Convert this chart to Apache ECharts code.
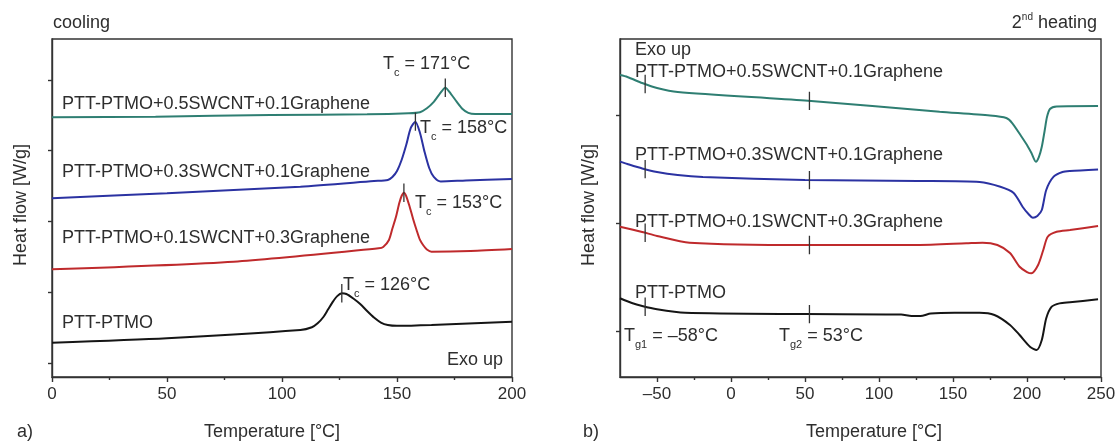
<!DOCTYPE html>
<html>
<head>
<meta charset="utf-8">
<script src="https://cdn.jsdelivr.net/npm/echarts@6/dist/echarts.min.js"></script>
<style>
  html, body { margin: 0; padding: 0; background: #ffffff; }
  #chart { width: 1119px; height: 441px; }
</style>
</head>
<body>
<div id="chart"></div>
<script>
// ---- DSC data: [temperature °C, heat flow (offset, arbitrary units)] ----

// a) cooling
const coolNeat = [[0,0.287],[50,0.349],[108,0.466],[113,0.505],[115.5,0.560],[118,0.650],[120,0.755],[122,0.860],[124,0.945],[126,0.985],[128,0.975],[131,0.912],[134,0.834],[137,0.735],[140,0.643],[143,0.572],[146,0.537],[150,0.525],[165,0.537],[200,0.584]];
const coolS01G03 = [[0,1.324],[79,1.432],[142,1.622],[144,1.640],[146.5,1.739],[148,1.900],[149.5,2.060],[151,2.260],[152,2.360],[153,2.407],[154,2.360],[155.5,2.209],[157,2.035],[158.5,1.880],[160,1.739],[161.5,1.660],[163,1.604],[165,1.573],[182,1.583],[200,1.611]];
const coolS03G01 = [[0,2.328],[50,2.399],[108,2.492],[140,2.572],[146,2.587],[148,2.629],[150,2.714],[152,2.869],[154,3.081],[156,3.322],[158,3.411],[160,3.251],[162,2.982],[164,2.756],[166,2.629],[169,2.565],[180,2.580],[200,2.601]];
const coolS05G01 = [[0,3.473],[45,3.481],[95,3.505],[137,3.515],[155,3.530],[160,3.545],[163,3.600],[166,3.690],[168.5,3.800],[171,3.891],[173.5,3.800],[176,3.690],[178.5,3.590],[181,3.535],[184,3.519],[200,3.519]];
const coolTc = [126, 153, 158, 171];

// b) 2nd heating
const heatNeat = [[-75,0.303],[-67,0.259],[-60,0.231],[-50,0.201],[-31,0.169],[50,0.157],[115,0.153],[122,0.139],[128,0.139],[135,0.162],[151,0.169],[168,0.169],[178,0.148],[188.5,0.056],[195,-0.037],[202,-0.145],[206.5,-0.176],[210,-0.083],[213,0.118],[216.7,0.225],[222,0.256],[229,0.266],[248,0.294]];
const heatS01G03 = [[-75,0.966],[-60,0.917],[-50,0.880],[-28,0.818],[50,0.796],[126,0.796],[159,0.812],[170,0.818],[180,0.796],[188.5,0.722],[195,0.595],[200,0.546],[203,0.534],[207.5,0.611],[211,0.750],[214,0.873],[220,0.919],[229,0.935],[248,0.972]];
const heatS03G01 = [[-75,1.568],[-70,1.546],[-60,1.505],[-50,1.472],[-36,1.444],[-19,1.426],[50,1.398],[126,1.389],[168,1.380],[182,1.336],[191,1.278],[197,1.151],[201,1.083],[204,1.049],[207,1.065],[210,1.120],[213,1.306],[218,1.429],[224,1.472],[229,1.481],[248,1.495]];
const heatS05G01 = [[-75,2.370],[-70,2.352],[-60,2.296],[-50,2.250],[-36,2.213],[50,2.134],[141,2.031],[175,1.995],[186,1.972],[190,1.926],[196,1.806],[200,1.722],[203,1.648],[206,1.568],[208,1.611],[210,1.706],[212,1.861],[213.5,1.981],[215.5,2.056],[220,2.079],[248,2.083]];
const heatTg = [-58, 53];

// axis ticks
const coolTempTicks = [0, 50, 100, 150, 200];
const heatTempTicks = [-50, 0, 50, 100, 150, 200, 250];
const heatTempMinor = [-25, 25, 75, 125, 175, 225];
const coolFlowTicks = [0, 1, 2, 3, 4];
const heatFlowTicks = [0, 1, 2];

const sampleNames = ['PTT-PTMO', 'PTT-PTMO+0.1SWCNT+0.3Graphene', 'PTT-PTMO+0.3SWCNT+0.1Graphene', 'PTT-PTMO+0.5SWCNT+0.1Graphene'];
const sampleColors = ['#151515', '#bf2a2c', '#2b32a2', '#2e7e72'];

const FONT = '"Liberation Sans", Arial, Helvetica, sans-serif';
const INK = '#2e2e2e';
const AXIS = '#333333';

function valueAt(curve, t) {
  for (let i = 1; i < curve.length; i++) {
    const [t0, v0] = curve[i - 1], [t1, v1] = curve[i];
    if (t >= t0 && t <= t1) return v0 + (v1 - v0) * (t - t0) / (t1 - t0);
  }
  return curve[curve.length - 1][1];
}

function curveSeries(data, color, ax) {
  return {
    type: 'line', xAxisIndex: ax, yAxisIndex: ax, data: data,
    symbol: 'none', smooth: 0.25, silent: true,
    lineStyle: { color: color, width: 2 }, z: 3
  };
}

function markerSeries(curve, t, half, ax) {
  const v = valueAt(curve, t);
  return {
    type: 'line', xAxisIndex: ax, yAxisIndex: ax,
    data: [[t, v - half], [t, v + half]],
    symbol: 'none', silent: true,
    lineStyle: { color: AXIS, width: 1.3 }, z: 4
  };
}

function plainText(x, y, text, align, size) {
  return {
    type: 'text', x: x, y: y, silent: true,
    style: {
      text: text, fill: INK, font: (size || 18) + 'px ' + FONT,
      textAlign: align || 'left', align: align || 'left',
      textVerticalAlign: 'middle', verticalAlign: 'middle'
    }
  };
}

function subText(x, y, main, sub, rest) {
  return {
    type: 'text', x: x, y: y, silent: true,
    style: {
      text: '{t|' + main + '}{s|' + sub + '}{t|' + rest + '}',
      textAlign: 'left', align: 'left',
      textVerticalAlign: 'middle', verticalAlign: 'middle',
      rich: {
        t: { fontSize: 18, fontFamily: FONT, fill: INK, color: INK, lineHeight: 28 },
        s: { fontSize: 11, fontFamily: FONT, fill: INK, color: INK, lineHeight: 8, verticalAlign: 'bottom' }
      }
    }
  };
}

const coolCurves = [coolNeat, coolS01G03, coolS03G01, coolS05G01];
const heatCurves = [heatNeat, heatS01G03, heatS03G01, heatS05G01];

const series = [];
coolCurves.forEach((c, i) => series.push(curveSeries(c, sampleColors[i], 0)));
heatCurves.forEach((c, i) => series.push(curveSeries(c, sampleColors[i], 1)));
coolCurves.forEach((c, i) => series.push(markerSeries(c, coolTc[i], 0.13, 0)));
heatCurves.forEach(c => heatTg.forEach(t => series.push(markerSeries(c, t, 0.085, 1))));

const tickLine = { color: AXIS, width: 1.4 };
const axisLabelStyle = { color: INK, fontSize: 17, fontFamily: FONT, margin: 9 };
const dash = s => String(s).replace('-', '\u2013');

const option = {
  animation: false,
  backgroundColor: '#ffffff',
  grid: [
    { left: 52, top: 39, width: 460, height: 338, show: true, borderColor: AXIS, borderWidth: 1.4, backgroundColor: 'transparent' },
    { left: 620, top: 39, width: 481, height: 338, show: true, borderColor: AXIS, borderWidth: 1.4, backgroundColor: 'transparent' },
    { left: 620, top: 39, width: 481, height: 338, show: false }
  ],
  xAxis: [
    {
      gridIndex: 0, type: 'value', min: 0, max: 200, interval: 50,
      axisLine: { show: true, onZero: false, lineStyle: tickLine },
      axisTick: { show: true, length: 5, lineStyle: tickLine, customValues: coolTempTicks },
      minorTick: { show: true, splitNumber: 2, length: 3, lineStyle: tickLine },
      axisLabel: Object.assign({ customValues: coolTempTicks }, axisLabelStyle),
      splitLine: { show: false }, minorSplitLine: { show: false }
    },
    {
      gridIndex: 1, type: 'value', min: -75, max: 250,
      axisLine: { show: true, onZero: false, lineStyle: tickLine },
      axisTick: { show: true, length: 5, lineStyle: tickLine, customValues: heatTempTicks },
      axisLabel: Object.assign({ customValues: heatTempTicks, formatter: dash }, axisLabelStyle),
      splitLine: { show: false }
    },
    {
      gridIndex: 2, type: 'value', min: -75, max: 250,
      axisLine: { show: false, onZero: false },
      axisTick: { show: true, length: 3, lineStyle: tickLine, customValues: heatTempMinor },
      axisLabel: { show: false },
      splitLine: { show: false }
    }
  ],
  yAxis: [
    {
      gridIndex: 0, type: 'value', min: -0.198, max: 4.579,
      axisLine: { show: true, onZero: false, lineStyle: tickLine },
      axisTick: { show: true, length: 4, lineStyle: tickLine, customValues: coolFlowTicks },
      axisLabel: { show: false }, splitLine: { show: false }
    },
    {
      gridIndex: 1, type: 'value', min: -0.426, max: 2.704,
      axisLine: { show: true, onZero: false, lineStyle: tickLine },
      axisTick: { show: true, length: 4, lineStyle: tickLine, customValues: heatFlowTicks },
      axisLabel: { show: false }, splitLine: { show: false }
    },
    { gridIndex: 2, type: 'value', min: 0, max: 1, show: false }
  ],
  series: series,
  graphic: [
    // panel titles
    plainText(53, 23, 'cooling'),
    {
      type: 'text', x: 1097, y: 23, silent: true,
      style: {
        text: '{t|2}{p|nd}{t| heating}', textAlign: 'right', align: 'right',
        textVerticalAlign: 'middle', verticalAlign: 'middle',
        rich: {
          t: { fontSize: 18, fontFamily: FONT, fill: INK, color: INK, lineHeight: 22 },
          p: { fontSize: 10, fontFamily: FONT, fill: INK, color: INK, lineHeight: 12, verticalAlign: 'top' }
        }
      }
    },
    plainText(17, 432, 'a)'),
    plainText(583, 432, 'b)'),
    // axis names
    plainText(272, 432, 'Temperature [°C]', 'center'),
    plainText(874, 432, 'Temperature [°C]', 'center'),
    Object.assign(plainText(21, 205, 'Heat flow [W/g]', 'center'), { rotation: Math.PI / 2 }),
    Object.assign(plainText(589, 205, 'Heat flow [W/g]', 'center'), { rotation: Math.PI / 2 }),
    // cooling panel annotations
    plainText(447, 360, 'Exo up'),
    plainText(62, 104, sampleNames[3]),
    plainText(62, 172, sampleNames[2]),
    plainText(62, 238, sampleNames[1]),
    plainText(62, 323, sampleNames[0]),
    subText(383, 64, 'T', 'c', ' = ' + coolTc[3] + '°C'),
    subText(420, 128, 'T', 'c', ' = ' + coolTc[2] + '°C'),
    subText(415, 203, 'T', 'c', ' = ' + coolTc[1] + '°C'),
    subText(343, 285, 'T', 'c', ' = ' + coolTc[0] + '°C'),
    // heating panel annotations
    plainText(635, 50, 'Exo up'),
    plainText(635, 72, sampleNames[3]),
    plainText(635, 155, sampleNames[2]),
    plainText(635, 222, sampleNames[1]),
    plainText(635, 293, sampleNames[0]),
    subText(624, 336, 'T', 'g1', ' = ' + dash(heatTg[0]) + '°C'),
    subText(779, 336, 'T', 'g2', ' = ' + heatTg[1] + '°C')
  ]
};

const chart = echarts.init(document.getElementById('chart'), null, { renderer: 'canvas' });
chart.setOption(option);
</script>
</body>
</html>
